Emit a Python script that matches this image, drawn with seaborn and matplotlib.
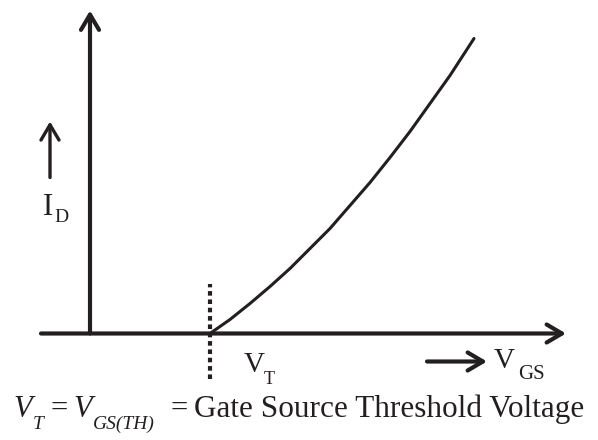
import matplotlib
matplotlib.use('Agg')
import matplotlib.pyplot as plt
import seaborn as sns

# ........................ DATOS (unidades del diagrama, origen en el cruce de ejes) ........................
vgs = [120, 140, 160, 180, 200, 220, 240, 260, 280, 300, 320, 340, 360, 384]   # eje x de la curva
i_d = [0, 14, 30, 47, 65, 85, 105, 128, 151, 176, 202, 230, 258, 295]          # eje y de la curva
v_t = 120                                                                       # tension umbral

# textos: (letra principal, subindice)
txt_id = ('I', 'D')
txt_vt = ('V', 'T')
txt_vgs = ('V', 'GS')
txt_ec = ['V', 'T', '=', 'V', 'GS(TH)', '=', 'Gate Source Threshold Voltage']

# ........................ ESTILO ........................
sns.set_style('white')
plt.rcParams['font.family'] = ['Liberation Serif', 'DejaVu Serif']
negro = '#231f20'

fig = plt.figure(figsize=(5.98, 4.40), dpi=100)
ax = fig.add_axes([0, 0, 1, 1])
ax.set_xlim(-90, 508)
ax.set_ylim(-106.5, 333.5)
ax.axis('off')

flecha = dict(arrowstyle='->,head_length=1.1,head_width=0.65', lw=3, color=negro,
              shrinkA=0, shrinkB=0)

# ejes
ax.annotate('', xy=(0, 323), xytext=(0, 0), arrowprops=flecha)
ax.annotate('', xy=(476, 0), xytext=(-49, 0), arrowprops=flecha)

# flechas pequeñas de las etiquetas
ax.annotate('', xy=(-40, 212), xytext=(-40, 156), arrowprops=dict(flecha, lw=2.4))
ax.annotate('', xy=(397, -28), xytext=(337, -28), arrowprops=flecha)

# linea punteada en V_T
ax.plot([v_t, v_t], [-45, 50], color=negro, lw=3, linestyle=(0, (1.1, 0.9)))

# curva I_D vs V_GS
sns.lineplot(x=vgs, y=i_d, ax=ax, color=negro, lw=2.2)


def etiqueta(x, y, xs, ys, par, tam, tam_sub, estilo='normal'):
    ax.text(x, y, par[0], fontsize=tam, color=negro, va='baseline', ha='left', style=estilo)
    ax.text(xs, ys, par[1], fontsize=tam_sub, color=negro, va='baseline', ha='left', style=estilo)


# etiquetas de los ejes
etiqueta(-47, 118.5, -36, 111.5, txt_id, 22, 14)
etiqueta(154, -38.5, 174, -50, txt_vt, 21, 13)
etiqueta(404, -34.5, 428, -45, txt_vgs, 21, 15)

# ecuacion inferior
etiqueta(-77, -83, -57, -95, (txt_ec[0], txt_ec[1]), 22, 14, 'italic')
ax.text(-40, -83, txt_ec[2], fontsize=22, color=negro, va='baseline', ha='left')
etiqueta(-17, -83, 3, -95, (txt_ec[3], txt_ec[4]), 22, 14, 'italic')
ax.text(80, -83, txt_ec[5], fontsize=22, color=negro, va='baseline', ha='left')
ax.text(104, -83, txt_ec[6], fontsize=22.5, color=negro, va='baseline', ha='left')

fig.savefig('out.png', dpi=100)
